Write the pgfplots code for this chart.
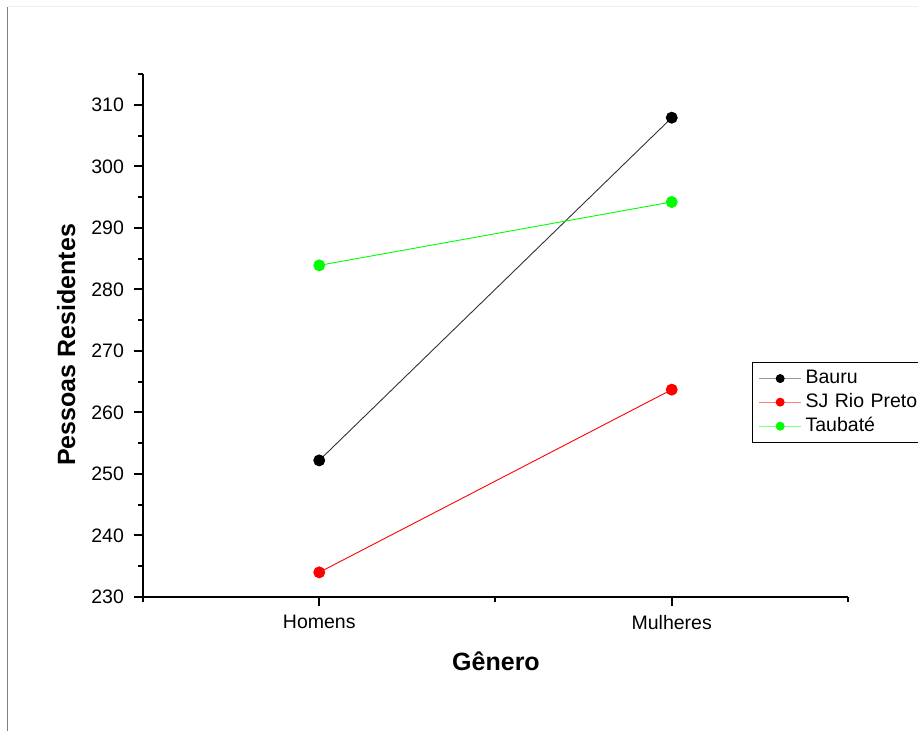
\documentclass[border=0pt]{standalone}
\usepackage{pgfplots}
\pgfplotsset{compat=1.18}
\usepackage{fontspec}
\setmainfont{Liberation Sans}
\definecolor{cgreen}{RGB}{0,255,0}
\definecolor{cred}{RGB}{255,0,0}
\begin{document}
\begin{tikzpicture}
\path[use as bounding box] (0pt,0pt) rectangle (459pt,365.5pt);
\draw[gray, line width=0.7pt] (3.75pt,0pt) -- (3.75pt,362pt);
\draw[gray!12, line width=0.5pt] (3.75pt,362pt) -- (459pt,362pt);
\begin{axis}[
  at={(71.5pt,67pt)}, anchor=south west,
  scale only axis, width=352.5pt, height=261.5pt,
  xmin=0.5, xmax=2.5, ymin=230, ymax=315,
  axis lines=left, axis line style={line width=1pt, -},
  xtick={1,2}, xticklabels={Homens,Mulheres}, minor xtick={0.5,1.5,2.5},
  ytick={230,240,...,310}, minor ytick={235,245,...,315},
  tick align=outside, major tick length=4.5pt, minor tick length=2.5pt,
  every tick/.style={black, line width=1pt},
  ticklabel style={font=\fontsize{9.75}{12}\selectfont},
  xticklabel style={yshift=-1pt},
  yticklabel style={xshift=-1.5pt},
  /pgf/number format/assume math mode=true,
  xlabel={Gênero}, ylabel={Pessoas Residentes},
  label style={font=\bfseries\fontsize{12.5}{15}\selectfont},
  xlabel style={at={(axis description cs:0.5007,-0.1224)}, anchor=center},
  ylabel style={at={(axis description cs:-0.109,0.482)}, anchor=center},
  legend style={at={(axis description cs:0.864,0.449)}, anchor=north west,
    draw=black, line width=0.6pt, font=\fontsize{9.75}{12}\selectfont,
    inner xsep=3pt, inner ysep=1.8pt, row sep=-0.6pt,
    cells={anchor=west, text width=58pt, xshift=1.5pt}},
  legend image code/.code={%
    \draw[draw opacity=0.5, mark=none] (0pt,0pt) -- (21pt,0pt);
    \path[mark size=2pt] plot coordinates {(10.5pt,0pt)};},
  clip=false,
]
\addplot[black!80, line width=0.45pt, mark=*, mark size=2.75pt, mark options={solid, draw=black, fill=black}] coordinates {(1,252.2) (2,307.9)};
\addlegendentry{Bauru}
\addplot[cred, line width=0.45pt, mark=*, mark size=2.75pt, mark options={solid, fill=cred}] coordinates {(1,234.0) (2,263.7)};
\addlegendentry{SJ Rio Preto}
\addplot[cgreen, line width=0.45pt, mark=*, mark size=2.75pt, mark options={solid, fill=cgreen}] coordinates {(1,283.9) (2,294.2)};
\addlegendentry{Taubaté}
\end{axis}
\end{tikzpicture}
\end{document}
